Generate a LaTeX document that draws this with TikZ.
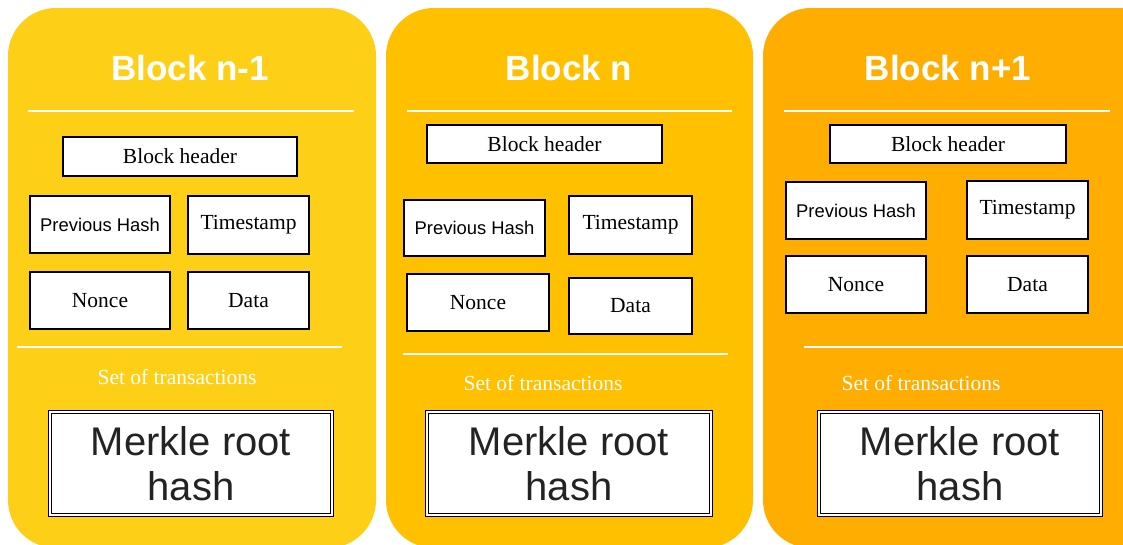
\documentclass[tikz,border=0pt]{standalone}
\usepackage{fontspec}
\setmainfont{Liberation Serif}
\newfontfamily\arialfont{Liberation Sans}
\definecolor{pone}{RGB}{253,208,23}
\definecolor{ptwo}{RGB}{255,192,0}
\definecolor{pthree}{RGB}{255,173,0}
\definecolor{mtext}{RGB}{35,35,35}
\begin{document}
\begin{tikzpicture}[x=1pt,y=-1pt,
  panel/.style={rounded corners=48pt},
  title/.style={text=white,font=\arialfont\bfseries\fontsize{35}{40}\selectfont},
  field/.style={draw=black,line width=1.1pt,fill=white,inner sep=0pt},
  serif/.style={font=\fontsize{21.5}{25}\selectfont},
  sans/.style={font=\arialfont\fontsize{18.4}{22}\selectfont},
  rule/.style={draw=white,line width=2.6pt},
  txn/.style={text=white,font=\fontsize{21.5}{25}\selectfont},
  merkle/.style={draw=black,double=white,double distance=2.4pt,line width=0.8pt,fill=white,
    align=center,inner sep=0pt,text=mtext,font=\arialfont\fontsize{40}{45}\selectfont,
    minimum width=282pt,minimum height=103pt}]
\useasboundingbox (0,0) rectangle (1123,544);
\clip (0,0) rectangle (1123,544);
\fill[white] (0,0) rectangle (1123,544);
% panels
\fill[pone,panel] (8,8) rectangle (376,548);
\fill[ptwo,panel] (386,8) rectangle (753,548);
\fill[pthree,panel] (763,8) rectangle (1175,548);

% ---------- Panel 1
\node[title] (t1) at (190,68) {Block n-1};
\coordinate (r1a) at (28,111); \coordinate (r1b) at (354,111);
\draw[rule] (r1a) -- (r1b);
\node[field,serif,minimum width=234pt,minimum height=39pt] (h1) at (180,156.5) {Block header};
\node[field,sans,minimum width=140pt,minimum height=57pt] (p1) at (100,224.5) {Previous Hash};
\node[field,serif,minimum width=121pt,minimum height=58pt] (ts1) at (248.5,225) {Timestamp};
\node[field,serif,minimum width=140pt,minimum height=57pt] (n1) at (100,300.5) {Nonce};
\node[field,serif,minimum width=121pt,minimum height=57pt] (d1) at (248.5,300.5) {Data};
\coordinate (r1c) at (17,347); \coordinate (r1d) at (342,347);
\draw[rule] (r1c) -- (r1d);
\node[txn] (s1) at (177,377) {Set of transactions};
\node[merkle] (m1) at (191,463.5) {Merkle root\\hash};

% ---------- Panel 2
\node[title] (t2) at (569,68) {Block n};
\coordinate (r2a) at (407,111); \coordinate (r2b) at (732,111);
\draw[rule] (r2a) -- (r2b);
\node[field,serif,minimum width=235pt,minimum height=38pt] (h2) at (544.5,144) {Block header};
\node[field,sans,minimum width=141pt,minimum height=56pt] (p2) at (474.5,228) {Previous Hash};
\node[field,serif,minimum width=123pt,minimum height=58pt] (ts2) at (630.5,225) {Timestamp};
\node[field,serif,minimum width=142pt,minimum height=57pt] (n2) at (478,302.5) {Nonce};
\node[field,serif,minimum width=123pt,minimum height=56pt] (d2) at (630.5,306) {Data};
\coordinate (r2c) at (403,354); \coordinate (r2d) at (728,354);
\draw[rule] (r2c) -- (r2d);
\node[txn] (s2) at (543,383) {Set of transactions};
\node[merkle,minimum width=284pt] (m2) at (569,463.5) {Merkle root\\hash};

% ---------- Panel 3
\node[title] (t3) at (948,68) {Block n+1};
\coordinate (r3a) at (784,111); \coordinate (r3b) at (1110,111);
\draw[rule] (r3a) -- (r3b);
\node[field,serif,minimum width=236pt,minimum height=38pt] (h3) at (948,144) {Block header};
\node[field,sans,minimum width=140pt,minimum height=57pt] (p3) at (856,210.5) {Previous Hash};
\node[field,serif,minimum width=121pt,minimum height=58pt] (ts3) at (1027.5,210) {Timestamp};
\node[field,serif,minimum width=140pt,minimum height=57pt] (n3) at (856,284.5) {Nonce};
\node[field,serif,minimum width=121pt,minimum height=57pt] (d3) at (1027.5,284.5) {Data};
\coordinate (r3c) at (804,347); \coordinate (r3d) at (1123,347);
\draw[rule] (r3c) -- (r3d);
\node[txn] (s3) at (921,383) {Set of transactions};
\node[merkle] (m3) at (960,463.5) {Merkle root\\hash};
\end{tikzpicture}
\end{document}
